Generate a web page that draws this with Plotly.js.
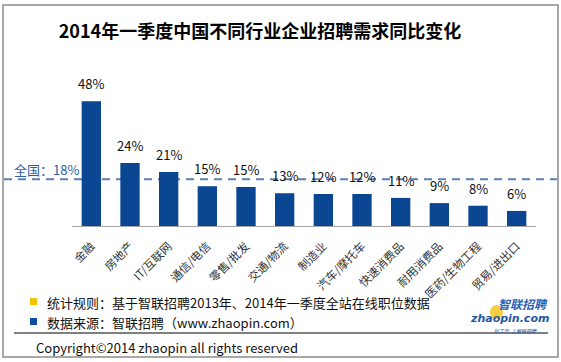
<!DOCTYPE html>
<html>
<head>
<meta charset="utf-8">
<script src="https://cdn.plot.ly/plotly-3.0.1.min.js"></script>
<style>html,body{margin:0;padding:0;background:#fff;}#chart{width:561px;height:362px;}</style>
</head>
<body>
<div id="chart"></div>
<script>
// Data
var categories = ['金融','房地产','IT/互联网','通信/电信','零售/批发','交通/物流','制造业','汽车/摩托车','快速消费品','耐用消费品','医药/生物工程','贸易/进出口'];
var values = [48, 24.2, 20.8, 15.3, 15.0, 12.6, 12.3, 12.3, 10.8, 8.8, 7.8, 5.8];
var valueLabels = ['48%','24%','21%','15%','15%','13%','12%','12%','11%','9%','8%','6%'];
var nationalValue = 18;
var nationalLabel = '全国：18%';
var titleText = '2014年一季度中国不同行业企业招聘需求同比变化';
var noteRule = '统计规则：基于智联招聘2013年、2014年一季度全站在线职位数据';
var noteSource = '数据来源：智联招聘（www.zhaopin.com）';
var copyrightText = 'Copyright©2014 zhaopin all rights reserved';

var FONT = '"Noto Sans CJK SC", "Noto Sans", sans-serif';
var L = 72, R = 536, T = 70, B = 226;
function px(x){ return (x - L) / (R - L); }
function py(y){ return (B - y) / (B - T); }

var trace = {
  type: 'bar',
  x: categories,
  y: values,
  width: 0.5,
  marker: {color: '#0b4693'},
  hoverinfo: 'none'
};

function note(x, y, text, size, color, xanchor, family){
  return {xref:'paper', yref:'paper', x: px(x), y: py(y), text: text, showarrow:false,
    xanchor: xanchor || 'center', yanchor: 'middle',
    font:{family: family || FONT, size: size, color: color}};
}

var annotations = categories.map(function(c, i){
  return {x: c, y: values[i], xref: 'x', yref: 'y', text: valueLabels[i], showarrow: false,
    xanchor: 'center', yanchor: 'bottom', yshift: 6, font: {family: FONT, size: 13, color: '#111'}};
});
annotations.push(note(46, 169, nationalLabel, 13, '#2f5f9f'));
annotations.push(note(45, 302, noteRule, 13, '#111', 'left'));
annotations.push(note(45, 322, noteSource, 13, '#111', 'left'));
annotations.push(note(34, 347, copyrightText, 13, '#111', 'left'));
annotations.push(note(523, 303, '<b><i>智联招聘</i></b>', 12, '#2a63b4'));
annotations.push(note(509, 318.5, '<b><i>zhaopin.com</i></b>', 11, '#1f56a6', 'center', '"DejaVu Sans", sans-serif'));
annotations.push(note(515, 330, '<i>好工作  上智联招聘</i>', 5, '#1f56a6'));

var shapes = [
  {type:'rect', xref:'paper', yref:'paper', x0: px(3), x1: px(558), y0: py(5), y1: py(357),
    line:{color:'#8c8c8c', width:1.5}, fillcolor:'rgba(0,0,0,0)', layer:'below'},
  {type:'line', xref:'paper', yref:'y', x0: px(4), x1: px(557), y0: nationalValue, y1: nationalValue,
    line:{color:'#5b80b4', width:2, dash:'8px,6px'}, layer:'below'},
  {type:'line', xref:'paper', yref:'paper', x0: px(14), x1: px(548), y0: py(333), y1: py(333),
    line:{color:'#000', width:1}},
  {type:'rect', xref:'paper', yref:'paper', x0: px(30), x1: px(37), y0: py(298), y1: py(305),
    line:{width:0}, fillcolor:'#f5c400'},
  {type:'rect', xref:'paper', yref:'paper', x0: px(30), x1: px(37), y0: py(318), y1: py(325),
    line:{width:0}, fillcolor:'#0b4f9e'},
  {type:'circle', xref:'paper', yref:'paper', x0: px(490), x1: px(503), y0: py(305), y1: py(319),
    line:{width:0}, fillcolor:'rgba(245,200,40,0.9)', layer:'above'}
];

var layout = {
  width: 561, height: 362,
  margin: {l: L, r: 561 - R, t: T, b: 362 - B, pad: 0},
  paper_bgcolor: '#fff', plot_bgcolor: 'rgba(0,0,0,0)',
  showlegend: false,
  title: {text: '<b>' + titleText + '</b>', x: 260/561, xanchor: 'center', xref: 'container',
    y: 1 - 32/362, yanchor: 'middle', yref: 'container',
    font: {family: FONT, size: 18, color: '#000'}},
  xaxis: {type: 'category', range: [-0.5, 11.5], showline: true, linecolor: '#a6a6a6', linewidth: 1,
    ticks: 'outside', ticklen: 8, tickcolor: 'rgba(0,0,0,0)', tickangle: -45,
    tickfont: {family: FONT, size: 11.5, color: '#333'}, showgrid: false, fixedrange: true},
  yaxis: {range: [0, 60], visible: false, showgrid: false, zeroline: false, fixedrange: true},
  annotations: annotations,
  shapes: shapes
};

Plotly.newPlot('chart', [trace], layout, {displayModeBar: false, staticPlot: true});
</script>
</body>
</html>
